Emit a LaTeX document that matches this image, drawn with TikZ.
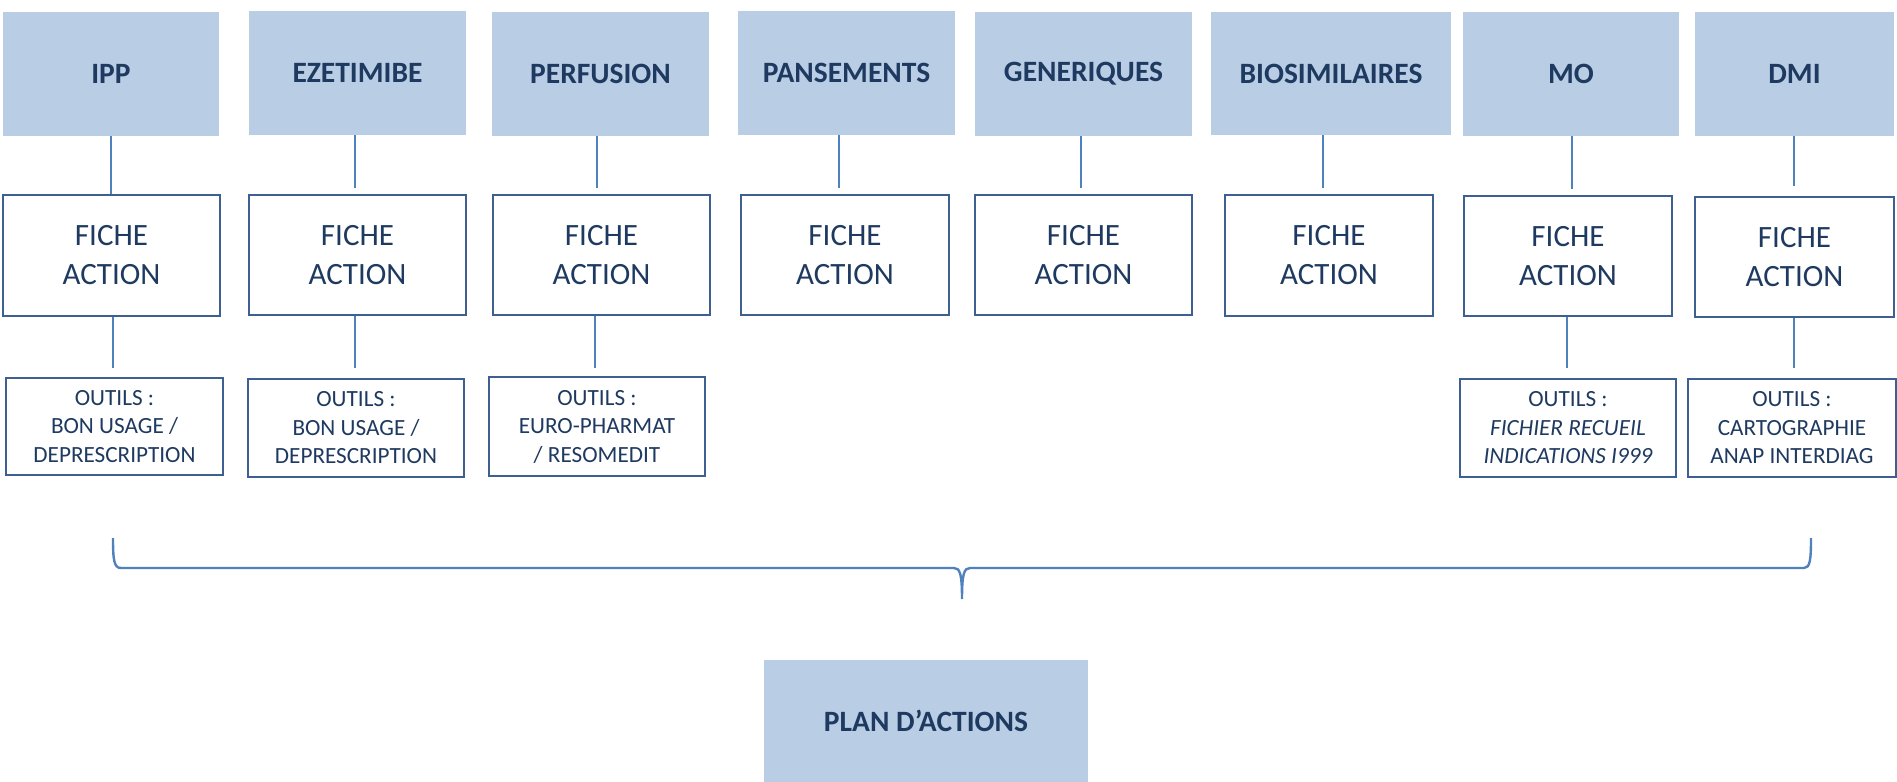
\documentclass[tikz,border=0pt]{standalone}
\usepackage{fontspec}
\setmainfont{Carlito}
\definecolor{titlefill}{HTML}{B9CDE5}
\definecolor{txtc}{HTML}{1F3A60}
\definecolor{borderc}{HTML}{3D6090}
\definecolor{linec}{HTML}{4F81BD}
\tikzset{
  sz/.style 2 args={minimum width=#1*0.5pt, minimum height=#2*0.5pt},
  titlebox/.style={fill=titlefill, draw=none, inner sep=0pt, text=txtc,
    font=\fontsize{14.75}{18}\selectfont\bfseries},
  fichebox/.style={draw=borderc, line width=0.9pt, fill=white, inner sep=0pt, text=txtc,
    align=center, font=\fontsize{15.5}{19.5}\selectfont},
  outilbox/.style={draw=borderc, line width=0.8pt, fill=white, inner sep=0pt, text=txtc,
    align=center, font=\fontsize{11.6}{14.25}\selectfont},
  conn/.style={draw=linec, line width=0.65pt},
  bracec/.style={draw=linec, line width=1.2pt}
}
\begin{document}
\begin{tikzpicture}[x=0.5pt, y=-0.5pt]
\useasboundingbox (0,0) rectangle (1897,782);
% titles
\node[titlebox, sz={216}{124}] (ipp)  at (111,74)    {IPP};
\node[titlebox, sz={217}{124}] (eze)  at (357.5,73)  {EZETIMIBE};
\node[titlebox, sz={217}{124}] (perf) at (600.5,74)  {PERFUSION};
\node[titlebox, sz={217}{124}] (pans) at (846.5,73)  {PANSEMENTS};
\node[titlebox, sz={217}{124}] (gen)  at (1083.5,74) {GENERIQUES};
\node[titlebox, sz={240}{123}] (bio)  at (1331,73.5) {BIOSIMILAIRES};
\node[titlebox, sz={216}{124}] (mo)   at (1571,74)   {MO};
\node[titlebox, sz={199}{124}] (dmi)  at (1794.5,74) {DMI};
% fiches
\node[fichebox, sz={217}{121}] (ippf)  at (111.5,255.5) {FICHE\\ACTION};
\node[fichebox, sz={217}{120}] (ezef)  at (357.5,255)   {FICHE\\ACTION};
\node[fichebox, sz={217}{120}] (perff) at (601.5,255)   {FICHE\\ACTION};
\node[fichebox, sz={208}{120}] (pansf) at (845,255)     {FICHE\\ACTION};
\node[fichebox, sz={217}{120}] (genf)  at (1083.5,255)  {FICHE\\ACTION};
\node[fichebox, sz={208}{121}] (biof)  at (1329,255.5)  {FICHE\\ACTION};
\node[fichebox, sz={208}{120}] (mof)   at (1568,256)    {FICHE\\ACTION};
\node[fichebox, sz={199}{120}] (dmif)  at (1794.5,257)  {FICHE\\ACTION};
% outils
\node[outilbox, sz={217}{97}] (ippo)  at (114.5,426.5) {OUTILS :\\BON USAGE /\\DEPRESCRIPTION};
\node[outilbox, sz={216}{98}] (ezeo)  at (356,428)     {OUTILS :\\BON USAGE /\\DEPRESCRIPTION};
\node[outilbox, sz={216}{99}] (perfo) at (597,426.5)   {OUTILS :\\EURO-PHARMAT\\/ RESOMEDIT};
\node[outilbox, sz={216}{98}] (moo)   at (1568,428)    {OUTILS :\\\textit{FICHIER RECUEIL}\\\textit{INDICATIONS I999}};
\node[outilbox, sz={208}{98}] (dmio)  at (1792,428)    {OUTILS :\\CARTOGRAPHIE\\ANAP INTERDIAG};
% plan
\node[titlebox, sz={324}{122}] (plan) at (926,721) {PLAN D’ACTIONS};
% connector abscissae
\coordinate (t1) at (111,0);  \coordinate (t2) at (355,0);
\coordinate (t3) at (597,0);  \coordinate (t4) at (839,0);
\coordinate (t5) at (1081,0); \coordinate (t6) at (1323,0);
\coordinate (t7) at (1572,0); \coordinate (t8) at (1794,0);
\coordinate (b1) at (113,0);  \coordinate (b2) at (355,0);
\coordinate (b3) at (595,0);  \coordinate (b7) at (1567,0);
\coordinate (b8) at (1794,0);
% top connectors
\draw[conn] (ipp.south -| t1) -- (ippf.north -| t1);
\draw[conn, shorten >=3pt] (eze.south -| t2) -- (ezef.north -| t2);
\draw[conn, shorten >=3pt] (perf.south -| t3) -- (perff.north -| t3);
\draw[conn, shorten >=3pt] (pans.south -| t4) -- (pansf.north -| t4);
\draw[conn, shorten >=3pt] (gen.south -| t5) -- (genf.north -| t5);
\draw[conn, shorten >=3pt] (bio.south -| t6) -- (biof.north -| t6);
\draw[conn, shorten >=3pt] (mo.south -| t7) -- (mof.north -| t7);
\draw[conn, shorten >=5pt] (dmi.south -| t8) -- (dmif.north -| t8);
% bottom connectors
\draw[conn, shorten >=4.5pt] (ippf.south -| b1) -- (ippo.north -| b1);
\draw[conn, shorten >=5pt] (ezef.south -| b2) -- (ezeo.north -| b2);
\draw[conn, shorten >=4pt] (perff.south -| b3) -- (perfo.north -| b3);
\draw[conn, shorten >=5pt] (mof.south -| b7) -- (moo.north -| b7);
\draw[conn, shorten >=5pt] (dmif.south -| b8) -- (dmio.north -| b8);
% brace
\draw[bracec] (113,538) .. controls (113,560) and (114,568) .. (121,568)
  -- (954,568) .. controls (960,568) and (962,574) .. (962,599)
  .. controls (962,574) and (964,568) .. (970,568)
  -- (1804,568) .. controls (1810,568) and (1811,560) .. (1811,538);
\end{tikzpicture}
\end{document}
